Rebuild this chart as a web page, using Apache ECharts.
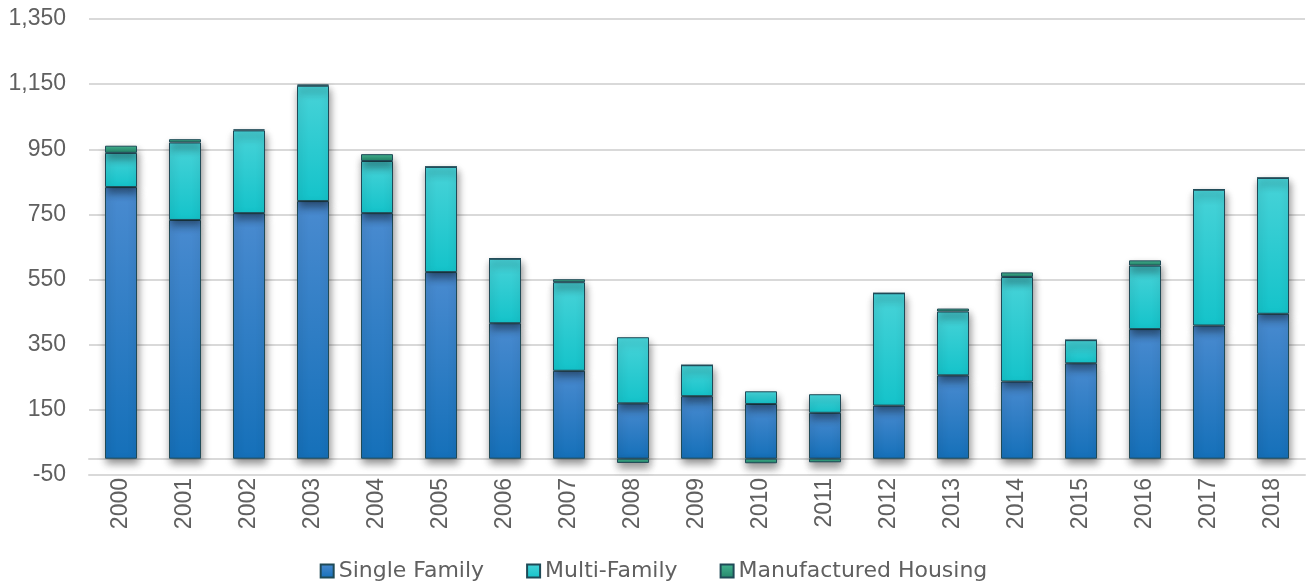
<!DOCTYPE html>
<html>
<head>
<meta charset="utf-8">
<script src="https://cdn.jsdelivr.net/npm/echarts@6/dist/echarts.min.js"></script>
<style>
  html, body { margin: 0; padding: 0; background: #fff; }
  #chart { width: 1307px; height: 581px; }
</style>
</head>
<body>
<div id="chart"></div>
<script>
// years on the x axis
var years = ['2000', '2001', '2002', '2003', '2004', '2005', '2006', '2007', '2008', '2009',
  '2010', '2011', '2012', '2013', '2014', '2015', '2016', '2017', '2018']
// values
var singleFamily = [834, 733, 754, 791, 754, 573, 416, 270, 170, 192, 168, 141, 163, 256, 237, 293, 398, 409, 445]
var multiFamily = [105, 238, 254, 354, 160, 323, 198, 272, 203, 95, 39, 57, 345, 196, 321, 71, 195, 417, 417]
var manufactured = [22, 10, 3, 4, 21, 0, 0, 9, -13, 0, -14, -11, 0, 9, 14, 0, 16, 0, 0]

var textColor = '#606060'
var axisFont = 'Liberation Sans, Arial, sans-serif'

function grad(top, bottom) {
  return new echarts.graphic.LinearGradient(0, 0, 0, 1, [
    { offset: 0, color: top },
    { offset: 1, color: bottom }
  ])
}

function barStyle(top, bottom) {
  return {
    color: grad(top, bottom),
    borderColor: '#1f4a57',
    borderWidth: 1,
    shadowColor: 'rgba(0, 0, 0, 0.45)',
    shadowBlur: 8,
    shadowOffsetX: 1,
    shadowOffsetY: 5
  }
}

var myChart = echarts.init(document.getElementById('chart'))
var option = {
  animation: false,
  grid: { left: 89, right: 2, top: 19, bottom: 106 },
  legend: {
    left: 'center',
    top: 555,
    icon: 'rect',
    itemWidth: 13,
    itemHeight: 13,
    itemGap: 42,
    textStyle: { color: textColor, fontSize: 22, fontFamily: 'DejaVu Sans, sans-serif' },
    data: ['Single Family', 'Multi-Family', 'Manufactured Housing']
  },
  xAxis: [
    {
      type: 'category',
      data: years,
      axisLine: { onZero: false, lineStyle: { color: '#d9d9d9', width: 2 } },
      axisTick: { show: false },
      axisLabel: { rotate: 90, margin: 3, color: textColor, fontSize: 23, fontFamily: axisFont }
    },
    {
      // gray line at zero, no labels
      type: 'category',
      data: years,
      position: 'bottom',
      axisLine: { onZero: true, lineStyle: { color: '#d9d9d9', width: 2 } },
      axisTick: { show: false },
      axisLabel: { show: false }
    }
  ],
  yAxis: {
    type: 'value',
    min: -50,
    max: 1350,
    interval: 200,
    axisLine: { show: false },
    axisTick: { show: false },
    splitLine: { lineStyle: { color: '#d9d9d9', width: 2 } },
    axisLabel: {
      margin: 23,
      color: textColor,
      fontSize: 23,
      fontFamily: axisFont,
      formatter: function (v) { return v.toLocaleString('en-US') }
    }
  },
  series: [
    {
      name: 'Single Family',
      type: 'bar',
      stack: 'total',
      barWidth: '50%',
      itemStyle: barStyle('#4a8bd0', '#1570b9'),
      data: singleFamily
    },
    {
      name: 'Multi-Family',
      type: 'bar',
      stack: 'total',
      itemStyle: barStyle('#48d3d8', '#14c3ca'),
      data: multiFamily
    },
    {
      name: 'Manufactured Housing',
      type: 'bar',
      stack: 'total',
      itemStyle: barStyle('#45b592', '#23866a'),
      data: manufactured
    }
  ]
}
myChart.setOption(option)
</script>
</body>
</html>
